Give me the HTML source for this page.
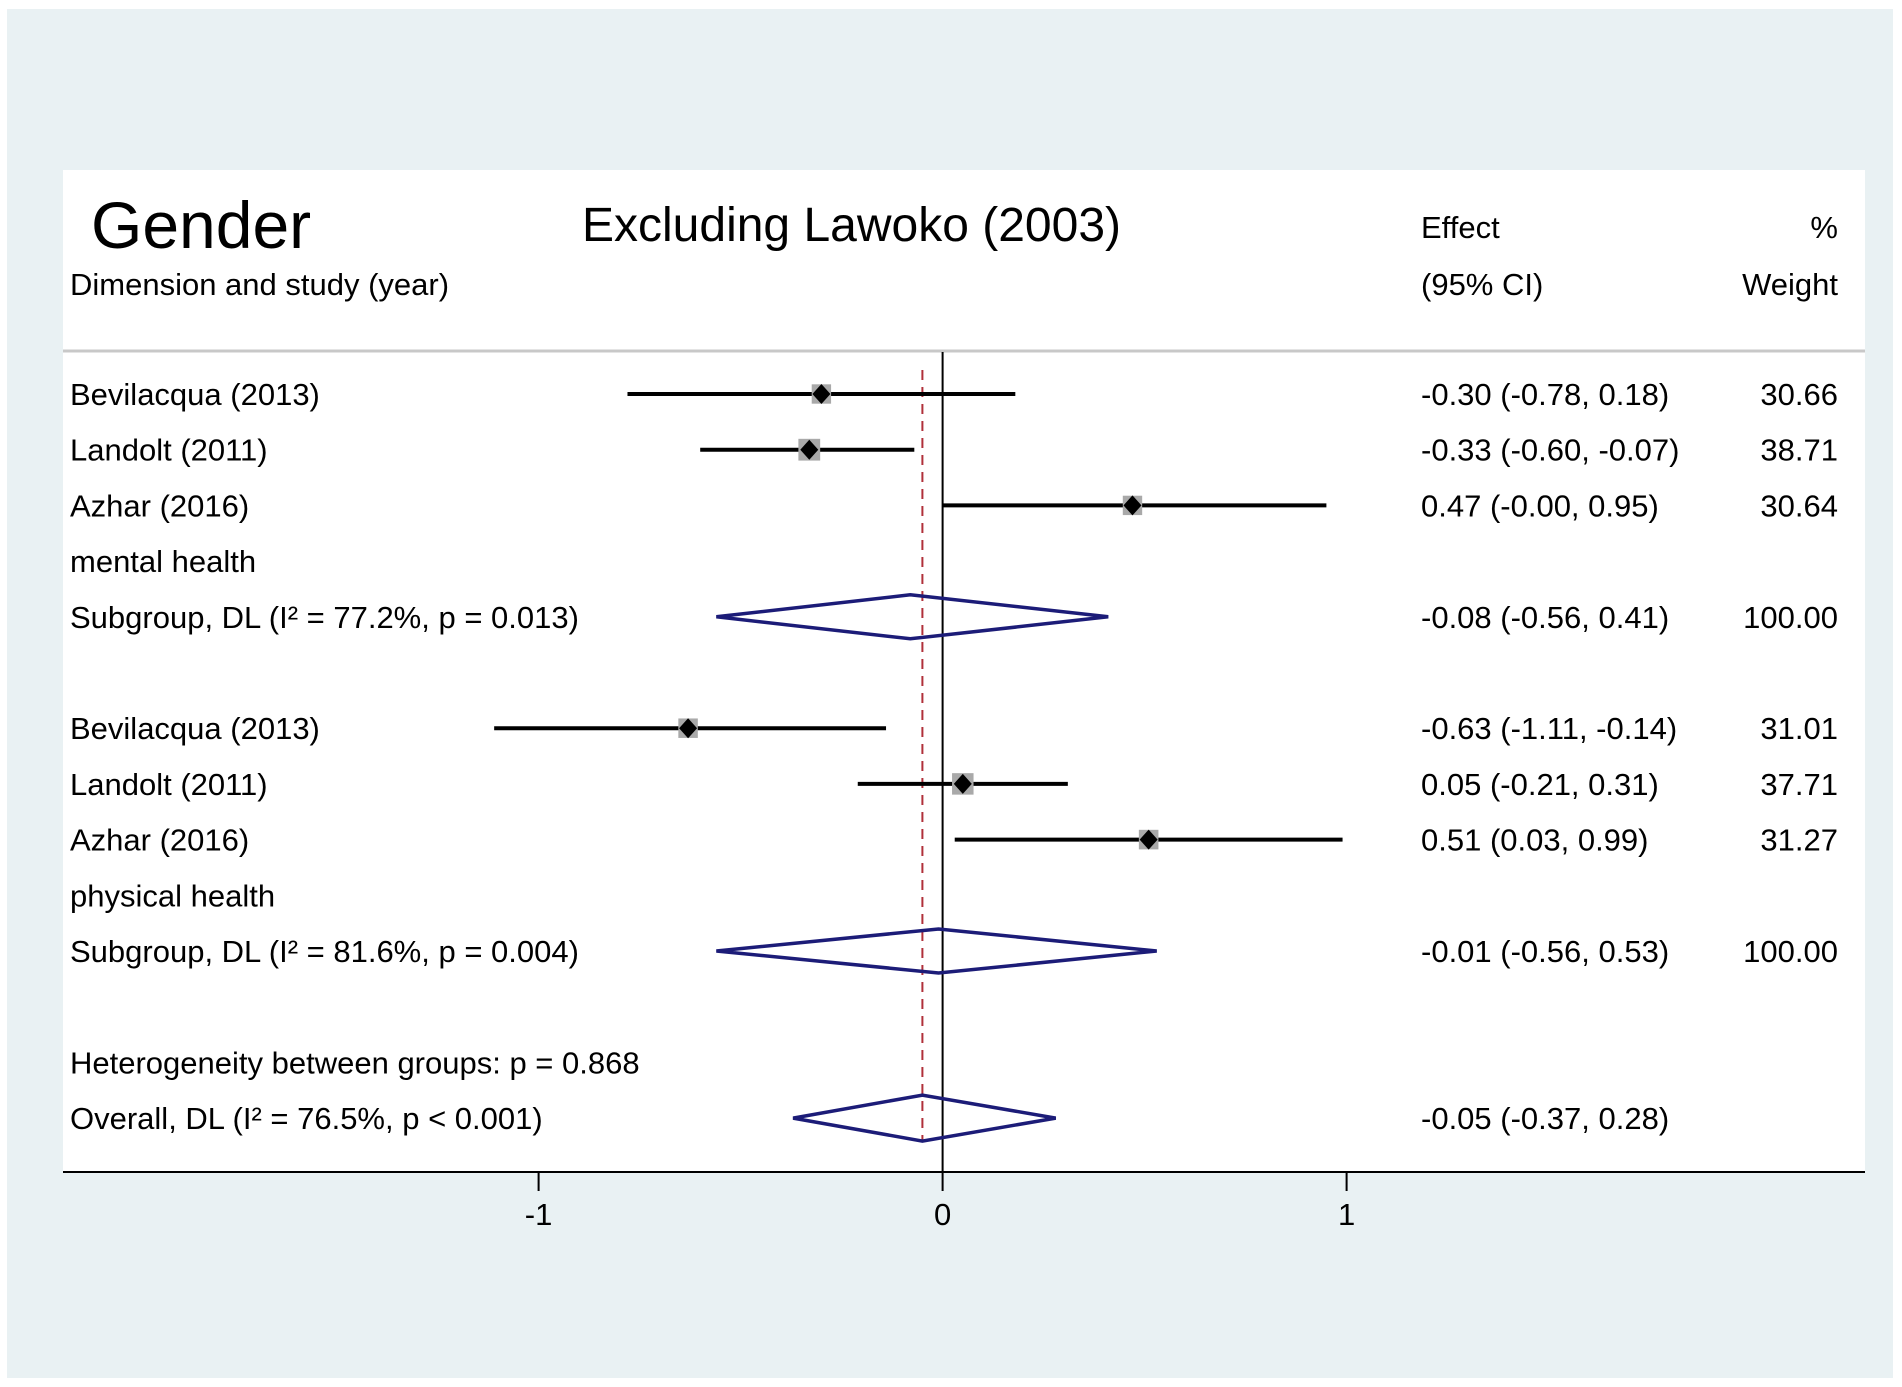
<!DOCTYPE html>
<html><head><meta charset="utf-8">
<style>
html,body{margin:0;padding:0;background:#fff;}
svg{display:block;font-family:"Liberation Sans",Arial,sans-serif;}
</style></head>
<body>
<svg id="chart" width="1902" height="1387" viewBox="0 0 1902 1387">
<rect x="7" y="9" width="1886" height="1369" fill="#e9f1f3"/>
<rect x="63" y="170" width="1802" height="1002" fill="#ffffff"/>
<text x="91" y="248" font-size="66" fill="#000">Gender</text>
<text x="582" y="241" font-size="48" fill="#000">Excluding Lawoko (2003)</text>
<text x="70" y="295" font-size="31" fill="#000">Dimension and study (year)</text>
<text x="1421" y="238" font-size="31" fill="#000">Effect</text>
<text x="1421" y="295" font-size="31" fill="#000">(95% CI)</text>
<text x="1838" y="238" font-size="31" fill="#000" text-anchor="end">%</text>
<text x="1838" y="295" font-size="31" fill="#000" text-anchor="end">Weight</text>
<line x1="63" y1="351" x2="1865" y2="351" stroke="#c8c8c8" stroke-width="3"/>
<g id="marks"></g>
</svg>
<script>
const labels = ["Bevilacqua (2013)","Landolt (2011)","Azhar (2016)","mental health","Subgroup, DL (I² = 77.2%, p = 0.013)","","Bevilacqua (2013)","Landolt (2011)","Azhar (2016)","physical health","Subgroup, DL (I² = 81.6%, p = 0.004)","","Heterogeneity between groups: p = 0.868","Overall, DL (I² = 76.5%, p < 0.001)"];
const rowTypes = ["study","study","study","label","sub","blank","study","study","study","label","sub","blank","label","overall"];
const effects = [-0.30,-0.33,0.47,null,-0.08,null,-0.63,0.05,0.51,null,-0.01,null,null,-0.05];
const lowers  = [-0.78,-0.60,-0.00,null,-0.56,null,-1.11,-0.21,0.03,null,-0.56,null,null,-0.37];
const uppers  = [0.18,-0.07,0.95,null,0.41,null,-0.14,0.31,0.99,null,0.53,null,null,0.28];
const effectText = ["-0.30 (-0.78, 0.18)","-0.33 (-0.60, -0.07)","0.47 (-0.00, 0.95)","","-0.08 (-0.56, 0.41)","","-0.63 (-1.11, -0.14)","0.05 (-0.21, 0.31)","0.51 (0.03, 0.99)","","-0.01 (-0.56, 0.53)","","","-0.05 (-0.37, 0.28)"];
const weights = ["30.66","38.71","30.64","","100.00","","31.01","37.71","31.27","","100.00","","",""];
const xTicks = [-1,0,1];
const xTickLabels = ["-1","0","1"];
const overallEffect = -0.05;

const NS="http://www.w3.org/2000/svg";
const g=document.getElementById('marks');
const xScale=v=>942.6+v*404;
const yScale=i=>394+i*55.7;
function el(tag,attrs,text){const e=document.createElementNS(NS,tag);for(const k in attrs)e.setAttribute(k,attrs[k]);if(text!==undefined)e.textContent=text;g.appendChild(e);return e;}

let z=el('line',{x1:xScale(0),y1:352,x2:xScale(0),y2:1172,stroke:'#000','stroke-width':2});


let d=el('line',{x1:xScale(overallEffect),y1:370,x2:xScale(overallEffect),y2:1140,stroke:'#b0303a','stroke-width':2,'stroke-dasharray':'10,7'});



labels.forEach((lab,i)=>{
  const y=yScale(i);
  if(lab){
    const t=el('text',{x:70,y:y+11,'font-size':31,fill:'#000'},lab);
    
    
  }
  if(effectText[i]){
    const t=el('text',{x:1421,y:y+11,'font-size':31,fill:'#000'},effectText[i]);
    
    
  }
  if(weights[i]){
    const t=el('text',{x:1838,y:y+11,'font-size':31,fill:'#000','text-anchor':'end'},weights[i]);
    
    
  }
  if(rowTypes[i]==='study'){
    const ci=el('line',{x1:xScale(lowers[i]),y1:y,x2:xScale(uppers[i]),y2:y,stroke:'#000','stroke-width':4});
    
    
    const s=3.5*Math.sqrt(parseFloat(weights[i]));
    const cx=xScale(effects[i]);
    const b=el('rect',{x:cx-s/2,y:y-s/2,width:s,height:s,fill:'#a9a9a9'});
    
    
    const m=el('polygon',{points:`${cx-9},${y} ${cx},${y-10} ${cx+9},${y} ${cx},${y+10}`,fill:'#000'});
    
    
  } else if(rowTypes[i]==='sub'||rowTypes[i]==='overall'){
    const h=rowTypes[i]==='sub'?22:23;
    const p=el('polygon',{points:`${xScale(lowers[i])},${y} ${xScale(effects[i])},${y-h} ${xScale(uppers[i])},${y} ${xScale(effects[i])},${y+h}`,fill:'none',stroke:'#1c1c78','stroke-width':3.5});
    
    
  }
});

const ax=el('line',{x1:63,y1:1172,x2:1865,y2:1172,stroke:'#000','stroke-width':2});


xTicks.forEach((v,i)=>{
  const tk=el('line',{x1:xScale(v),y1:1172,x2:xScale(v),y2:1191,stroke:'#000','stroke-width':2});
  
  
  const tl=el('text',{x:xScale(v),y:1225,'font-size':31,'text-anchor':'middle',fill:'#000'},xTickLabels[i]);
  
  
});
</script>
</body></html>
